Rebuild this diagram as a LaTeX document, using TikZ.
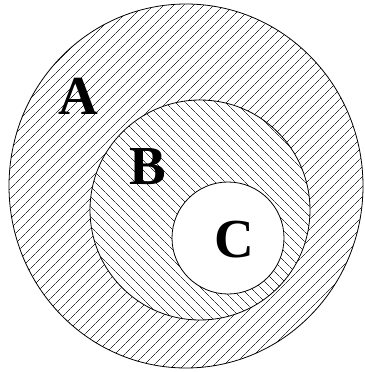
\documentclass[tikz,border=0pt]{standalone}
\usepackage{fontspec}
\setmainfont{Liberation Serif}
\usepackage{tikz}
\usetikzlibrary{patterns.meta}
\definecolor{hatchc}{RGB}{50,50,50}
\definecolor{ringborder}{RGB}{0,0,0}

\begin{document}
\begin{tikzpicture}[
  x=1pt, y=-1pt,
  ring/.style={draw=ringborder, line width=0.8pt},
  hatchA/.style={ring, pattern={Lines[angle=45, distance=7.4pt, line width=0.6pt]},
    pattern color=hatchc},
  hatchB/.style={ring, pattern={Lines[angle=-45, distance=7.4pt, line width=0.6pt]},
    pattern color=hatchc},
  lab/.style={font=\fontsize{55}{58}\selectfont\bfseries, inner sep=0pt, text=black}
]
\useasboundingbox (0,0) rectangle (364,372);

% ---- Set A (outer) ----
\draw[hatchA] (186,186) ellipse [x radius=177pt, y radius=182pt];

% ---- Set B (middle) ----
\fill[white] (200,210) ellipse [x radius=110pt, y radius=110pt];
\draw[hatchB] (200,210) ellipse [x radius=110pt, y radius=110pt];

% ---- Set C (inner) ----
\draw[ring, fill=white] (228,238) ellipse [x radius=56pt, y radius=56pt];

% ---- Labels ----
\node[lab] (labA) at (78,96) {A};
\node[lab] (labB) at (148,167) {B};
\node[lab] (labC) at (234,240) {C};

\end{tikzpicture}
\end{document}
